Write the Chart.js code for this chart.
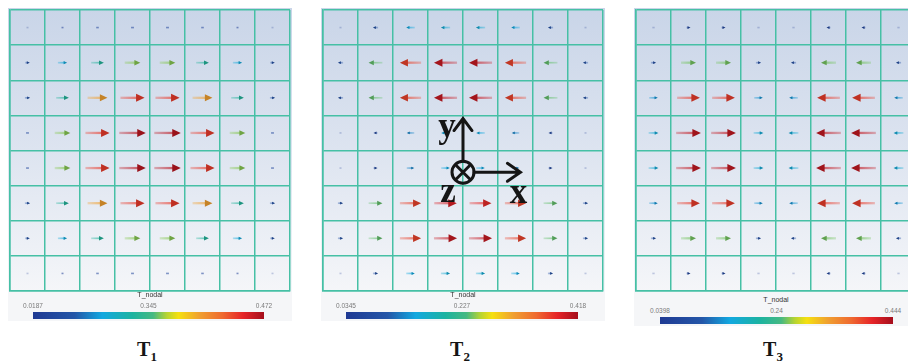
<!DOCTYPE html>
<html>
<head>
<meta charset="utf-8">
<script src="https://cdn.jsdelivr.net/npm/chart.js@4.4.1/dist/chart.umd.min.js"></script>
<style>
  html, body { margin: 0; padding: 0; background: #fff; }
  #stage { position: relative; width: 908px; height: 364px; overflow: hidden; }
  #stage canvas { position: absolute; top: 8px; }
  .under { position: absolute; background: #f5f6f8; }
  .cap { position: absolute; font: 7px "Liberation Sans", Arial, sans-serif; color: #333;
         transform: translateX(-50%); white-space: nowrap; line-height: 8px; }
  .tick { position: absolute; font: 6.5px "Liberation Sans", Arial, sans-serif; color: #7a7a7a;
          transform: translateX(-50%); white-space: nowrap; line-height: 8px; }
  .bar { position: absolute; height: 7px; }
  .tl { position: absolute; font: bold 20px "Liberation Serif", "Times New Roman", serif; color: #151515;
        transform: translateX(-50%); white-space: nowrap; line-height: 20px; }
  .tl sub { font-size: 13px; vertical-align: -5px; line-height: 0; }
</style>
</head>
<body>
<div id="stage"></div>
<script>
// Horizontal component of the nodal vectors on the 8 x 8 grid,
// one row per line from top to bottom (negative values point left).
const t1Ux = [
  [0.025, 0.030, 0.045, 0.050, 0.050, 0.045, 0.030, 0.025],
  [0.080, 0.160, 0.220, 0.270, 0.270, 0.220, 0.160, 0.080],
  [0.090, 0.220, 0.345, 0.418, 0.418, 0.345, 0.220, 0.090],
  [0.050, 0.270, 0.418, 0.458, 0.458, 0.418, 0.270, 0.050],
  [0.050, 0.270, 0.418, 0.458, 0.458, 0.418, 0.270, 0.050],
  [0.090, 0.220, 0.345, 0.418, 0.418, 0.345, 0.220, 0.090],
  [0.080, 0.160, 0.220, 0.270, 0.270, 0.220, 0.160, 0.080],
  [0.025, 0.030, 0.045, 0.050, 0.050, 0.045, 0.030, 0.025]
];
const t2Ux = [
  [-0.035, -0.090, -0.150, -0.160, -0.160, -0.150, -0.090, -0.035],
  [-0.090, -0.240, -0.368, -0.400, -0.400, -0.368, -0.240, -0.090],
  [-0.090, -0.240, -0.368, -0.400, -0.400, -0.368, -0.240, -0.090],
  [-0.035, -0.070, -0.130, -0.150, -0.150, -0.130, -0.070, -0.035],
  [ 0.035,  0.070,  0.130,  0.150,  0.150,  0.130,  0.070,  0.035],
  [ 0.090,  0.240,  0.368,  0.390,  0.380,  0.368,  0.240,  0.090],
  [ 0.090,  0.240,  0.368,  0.400,  0.400,  0.368,  0.240,  0.090],
  [ 0.035,  0.090,  0.150,  0.160,  0.160,  0.150,  0.090,  0.035]
];
const t3Ux = [
  [0.040, 0.070, 0.070, 0.040, -0.040, -0.070, -0.070, -0.040],
  [0.090, 0.260, 0.260, 0.090, -0.090, -0.260, -0.260, -0.090],
  [0.150, 0.395, 0.395, 0.150, -0.150, -0.395, -0.395, -0.150],
  [0.170, 0.428, 0.428, 0.170, -0.170, -0.428, -0.428, -0.170],
  [0.170, 0.428, 0.428, 0.170, -0.170, -0.428, -0.428, -0.170],
  [0.150, 0.395, 0.395, 0.150, -0.150, -0.395, -0.395, -0.150],
  [0.090, 0.260, 0.260, 0.090, -0.090, -0.260, -0.260, -0.090],
  [0.040, 0.070, 0.070, 0.040, -0.040, -0.070, -0.070, -0.040]
];

// Colour-bar ranges and their printed tick labels
const t1Range = [0.0187, 0.472];
const t2Range = [0.0345, 0.418];
const t3Range = [0.0398, 0.444];
const t1TickLabels = ['0.0187', '0.345', '0.472'];
const t2TickLabels = ['0.0345', '0.227', '0.418'];
const t3TickLabels = ['0.0398', '0.24', '0.444'];
const fieldName = 'T_nodal';
const panelNames = ['1', '2', '3'];

// Rainbow colour map used for both the bars and the arrows
const rainbow = [
  [0.00, [31, 58, 147]],
  [0.18, [36, 86, 168]],
  [0.30, [18, 168, 224]],
  [0.43, [28, 179, 160]],
  [0.52, [70, 185, 130]],
  [0.58, [184, 212, 48]],
  [0.63, [245, 224, 16]],
  [0.72, [240, 160, 48]],
  [0.82, [239, 106, 48]],
  [0.91, [230, 36, 40]],
  [1.00, [165, 14, 28]]
];
function colourAt(t) {
  t = Math.max(0, Math.min(1, t));
  for (let i = 1; i < rainbow.length; i++) {
    const [t1, c1] = rainbow[i];
    const [t0, c0] = rainbow[i - 1];
    if (t <= t1) {
      const f = (t - t0) / (t1 - t0);
      return c0.map((v, k) => Math.round(v + (c1[k] - v) * f));
    }
  }
  return rainbow[rainbow.length - 1][1];
}
const rgba = (c, a) => `rgba(${c[0]},${c[1]},${c[2]},${a})`;
const rainbowCss = 'linear-gradient(to right,' +
  rainbow.map(([t, c]) => `rgb(${c.join(',')}) ${(t * 100).toFixed(1)}%`).join(',') + ')';

const gridColor = 'rgb(70,192,165)';

// Soft blue-to-white backdrop behind the mesh
const backdrop = {
  id: 'backdrop',
  beforeDraw(chart) {
    const { ctx, width, height } = chart;
    const g = ctx.createLinearGradient(0, 0, 0, height);
    g.addColorStop(0, '#c9d5e8');
    g.addColorStop(0.5, '#dde4f0');
    g.addColorStop(1, '#f5f6f9');
    ctx.save();
    ctx.fillStyle = g;
    ctx.fillRect(0, 0, width, height);
    ctx.restore();
  }
};

// Draws one arrow per data point, length and colour taken from its u value
const vectorArrows = {
  id: 'vectorArrows',
  afterDatasetsDraw(chart, args, opts) {
    const { ctx } = chart;
    const xs = chart.scales.x, ys = chart.scales.y;
    const [lo, hi] = opts.range;
    ctx.save();
    chart.data.datasets[0].data.forEach(p => {
      const mag = Math.abs(p.u);
      const c = colourAt((mag - lo) / (hi - lo));
      const x0 = xs.getPixelForValue(p.x - p.u * opts.cellsPerUnit / 2);
      const x1 = xs.getPixelForValue(p.x + p.u * opts.cellsPerUnit / 2);
      const yy = ys.getPixelForValue(p.y);
      const len = Math.abs(x1 - x0);
      const dir = Math.sign(x1 - x0) || 1;
      if (len < 3.5) {
        const cx = (x0 + x1) / 2;
        const h = Math.max(1, len / 2);
        ctx.strokeStyle = rgba(c, mag < lo + 0.01 ? 0.25 : 0.55);
        ctx.lineWidth = 1.6;
        ctx.beginPath();
        ctx.moveTo(cx - h, yy);
        ctx.lineTo(cx + h, yy);
        ctx.stroke();
        return;
      }
      const head = Math.min(8.5, Math.max(3, len * 0.38));
      const hw = head * 0.47;
      const g = ctx.createLinearGradient(x0, 0, x1, 0);
      g.addColorStop(0, rgba(c, 0.3));
      g.addColorStop(1, rgba(c, 0.8));
      ctx.strokeStyle = g;
      ctx.lineWidth = len > 14 ? 2.3 : 1.7;
      ctx.beginPath();
      ctx.moveTo(x0, yy);
      ctx.lineTo(x1 - dir * head * 0.6, yy);
      ctx.stroke();
      const d = c.map(v => Math.round(v * 0.82));
      ctx.fillStyle = rgba(d, 1);
      ctx.beginPath();
      ctx.moveTo(x1, yy);
      ctx.lineTo(x1 - dir * head, yy - hw);
      ctx.lineTo(x1 - dir * head, yy + hw);
      ctx.closePath();
      ctx.fill();
    });
    ctx.restore();
  }
};

// Coordinate-frame glyph: x and y arrows with z pointing into the plane
const frameGlyph = {
  id: 'frameGlyph',
  afterDatasetsDraw(chart, args, opts) {
    if (!opts.show) return;
    const { ctx } = chart;
    const xs = chart.scales.x, ys = chart.scales.y;
    const ox = xs.getPixelForValue(opts.origin[0]);
    const oy = ys.getPixelForValue(opts.origin[1]);
    const yt = ys.getPixelForValue(opts.yTip);
    const xt = xs.getPixelForValue(opts.xTip);
    const r = 11;
    ctx.save();
    ctx.strokeStyle = '#151515';
    ctx.fillStyle = '#151515';
    ctx.lineWidth = 3;
    ctx.lineCap = 'round';
    ctx.beginPath();
    ctx.arc(ox, oy, r, 0, Math.PI * 2);
    ctx.stroke();
    const k = 6.5;
    ctx.beginPath();
    ctx.moveTo(ox - k, oy - k); ctx.lineTo(ox + k, oy + k);
    ctx.moveTo(ox + k, oy - k); ctx.lineTo(ox - k, oy + k);
    ctx.stroke();
    ctx.beginPath();
    ctx.moveTo(ox, oy - r); ctx.lineTo(ox, yt);
    ctx.moveTo(ox - 9, yt + 12); ctx.lineTo(ox, yt); ctx.lineTo(ox + 9, yt + 12);
    ctx.moveTo(ox + r, oy); ctx.lineTo(xt, oy);
    ctx.moveTo(xt - 13, oy - 9); ctx.lineTo(xt, oy); ctx.lineTo(xt - 13, oy + 9);
    ctx.stroke();
    ctx.font = 'bold 35px "Liberation Serif", "Times New Roman", serif';
    ctx.textAlign = 'center';
    ctx.textBaseline = 'alphabetic';
    ctx.fillText('y', ox - 16, oy - 35);
    ctx.fillText('z', ox - 15, oy + 30);
    ctx.fillText('x', xt - 2, oy + 31);
    ctx.restore();
  }
};

function toPoints(rowsUx) {
  const n = rowsUx.length;
  const pts = [];
  rowsUx.forEach((row, r) => row.forEach((u, c) => {
    pts.push({ x: c + 0.5, y: n - r - 0.5, u });
  }));
  return pts;
}

const stage = document.getElementById('stage');

function addEl(cls, css, html) {
  const el = document.createElement('div');
  el.className = cls;
  Object.assign(el.style, css);
  el.innerHTML = html;
  stage.appendChild(el);
  return el;
}

function buildPanel(cfg) {
  const canvas = document.createElement('canvas');
  canvas.width = 284;
  canvas.height = 285;
  canvas.style.left = cfg.left + 'px';
  stage.appendChild(canvas);

  const axis = {
    type: 'linear', min: 0, max: 8,
    ticks: { display: false, stepSize: 1 },
    grid: { color: gridColor, lineWidth: 1.5, drawTicks: false },
    border: { color: gridColor, width: 1.5 }
  };

  new Chart(canvas, {
    type: 'scatter',
    data: { datasets: [{ data: toPoints(cfg.ux), pointRadius: 0 }] },
    options: {
      responsive: false,
      animation: false,
      events: [],
      layout: { padding: 2 },
      plugins: {
        legend: { display: false },
        tooltip: { enabled: false },
        vectorArrows: { range: cfg.range, cellsPerUnit: 1.65 },
        frameGlyph: cfg.frame || { show: false }
      },
      scales: { x: axis, y: JSON.parse(JSON.stringify(axis)) }
    },
    plugins: [backdrop, vectorArrows, frameGlyph]
  });

  const mid = cfg.left + 2 + 140;
  addEl('under', { left: cfg.left + 'px', top: '292px', width: '284px', height: (cfg.barTop + 9 - 292) + 'px' }, '');
  addEl('cap', { left: mid + 'px', top: (cfg.barTop - 21) + 'px' }, fieldName);
  const [b0, b1] = cfg.bar;
  addEl('bar', { left: b0 + 'px', top: cfg.barTop + 'px', width: (b1 - b0) + 'px', background: rainbowCss }, '');
  const pos = [b0, (b0 + b1) / 2, b1];
  cfg.ticks.forEach((t, i) => addEl('tick', { left: pos[i] + 'px', top: (cfg.barTop - 10.5) + 'px' }, t));
  addEl('tl', { left: (mid - 3) + 'px', top: '339px' }, 'T<sub>' + cfg.name + '</sub>');
}

buildPanel({ left: 8, ux: t1Ux, range: t1Range, ticks: t1TickLabels, bar: [33, 264], barTop: 312, name: panelNames[0] });
buildPanel({ left: 321, ux: t2Ux, range: t2Range, ticks: t2TickLabels, bar: [346, 578], barTop: 312, name: panelNames[1],
  frame: { show: true, origin: [4, 3.38], yTip: 4.91, xTip: 5.64 } });
buildPanel({ left: 634, ux: t3Ux, range: t3Range, ticks: t3TickLabels, bar: [660, 893], barTop: 317, name: panelNames[2] });
</script>
</body>
</html>
